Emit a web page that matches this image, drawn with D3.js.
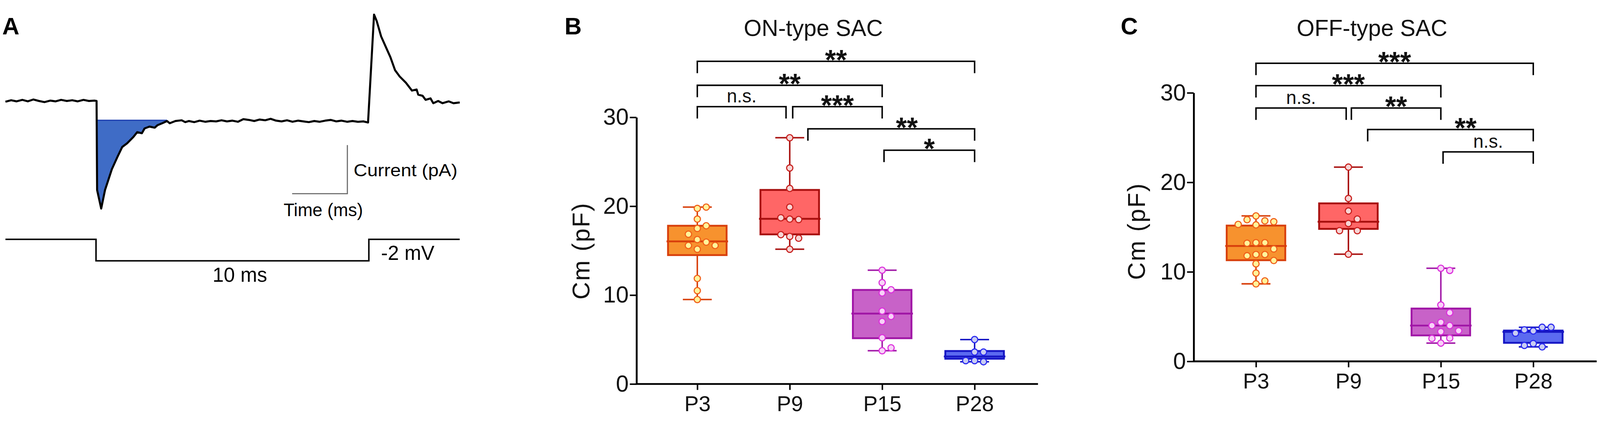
<!DOCTYPE html>
<html>
<head>
<meta charset="utf-8">
<script src="https://cdn.jsdelivr.net/npm/d3@7"></script>
<style>
  html, body { margin: 0; padding: 0; background: #fff; overflow: hidden; }
  svg { display: block; width: 100vw; height: 100vh; font-family: "Liberation Sans", Arial, sans-serif; }
</style>
</head>
<body>
<div id="fig"></div>
<script>
// ---- panel A: membrane current trace (t in ms, I in pA) ----
const traceT = [-3.32, -3.11, -2.91, -2.70, -2.50, -2.30, -2.09, -1.89, -1.68, -1.48, -1.28, -1.07, -0.87, -0.67, -0.46, -0.26, -0.05, 0.02,
  0.04, 0.19, 0.33, 0.42, 0.58, 0.79, 0.96, 1.14, 1.37, 1.51, 1.68, 1.78, 1.96, 2.15, 2.26, 2.46, 2.60, 2.70, 2.91, 3.14, 3.27,
  3.4, 3.6, 3.8, 4.0, 4.2, 4.4, 4.6, 4.8, 5.0, 5.2, 5.4, 5.6, 5.8, 6.0, 6.2, 6.4, 6.6, 6.8, 7.0, 7.2, 7.4, 7.6, 7.8, 8.0, 8.2, 8.4, 8.6, 8.8, 9.0, 9.2, 9.4, 9.6, 9.8, 9.97,
  10.19, 10.29, 10.45, 10.62, 10.79, 10.96, 11.13, 11.36, 11.58, 11.75, 11.81, 11.97, 12.08, 12.26, 12.36, 12.54, 12.70, 12.93, 13.10, 13.33]
const traceI = [-0.2, 0.2, -0.1, 0.3, -0.1, 0.4, 0.0, -0.3, 0.1, -0.1, 0.3, 0.0, 0.2, -0.1, 0.3, 0.0, 0.1, 0.0,
  -24.0, -29.0, -24.0, -22.0, -18.4, -15.0, -12.4, -11.4, -9.7, -8.4, -8.7, -7.4, -6.9, -7.2, -6.5, -5.9, -5.4, -6.0, -5.4, -5.2, -5.7,
  -5.4, -5.7, -5.3, -5.6, -5.4, -5.5, -5.2, -5.5, -5.3, -5.6, -4.9, -5.1, -5.4, -5.0, -5.2, -4.8, -5.3, -5.5, -5.2, -5.6, -5.3, -5.5, -5.7, -5.4, -5.6, -5.3, -5.1, -5.5, -5.3, -5.6, -5.4, -5.6, -5.5, -5.8,
  23.3, 21.5, 17.4, 14.6, 11.8, 8.3, 6.6, 4.9, 2.8, 3.1, 1.7, 1.4, 0.3, 0.7, -0.6, 0.0, -0.6, -0.1, -0.6, -0.4]
const chargeLevel = -5.2      // baseline of the shaded transient
const chargeEnd = 2.60
const stepT = [-3.32, 0, 0, 10, 10, 13.33]
const stepV = [0, 0, -10, -10, 0, 0]

// ---- panels B, C: membrane capacitance ----
const groups = ["P3", "P9", "P15", "P28"]
const yTicks = [0, 10, 20, 30]

const onPoints = [
  [19.75, 19.9, 18.55, 17.8, 17.5, 16.85, 16.25, 15.96, 15.58, 15.58, 15.16, 11.87, 10.5, 9.5],
  [27.7, 24.3, 22.0, 19.9, 18.55, 18.5, 18.7, 16.6, 16.4, 16.8, 15.16],
  [12.8, 11.4, 10.24, 10.6, 8.2, 7.6, 7.03, 5.2, 3.74, 4.07],
  [5.0, 3.59, 3.59, 2.63, 2.5, 2.63]
]
// [min, q1, median, q3, max]
const onBox = [
  [9.5, 14.5, 16.04, 17.8, 19.9],
  [15.16, 16.83, 18.58, 21.83, 27.7],
  [3.74, 5.15, 7.92, 10.58, 12.8],
  [2.5, 2.84, 3.09, 3.71, 5.0]
]
const offPoints = [
  [16.25, 15.7, 15.83, 15.6, 15.3, 15.25, 13.26, 13.26, 13.2, 12.56, 11.94, 11.94, 11.8, 11.27, 10.9, 9.86, 8.66, 8.99],
  [21.7, 18.2, 16.8, 15.9, 15.4, 14.6, 14.6, 11.97],
  [10.4, 10.16, 6.3, 5.44, 4.37, 4.0, 4.0, 3.42, 3.32, 2.6, 2.56, 2.04],
  [3.4, 3.81, 3.52, 3.81, 3.15, 1.99, 1.62, 1.78]
]
const offBox = [
  [8.66, 11.3, 12.89, 15.17, 16.25],
  [11.97, 14.8, 15.6, 17.65, 21.7],
  [2.04, 2.9, 4.0, 5.9, 10.4],
  [1.62, 2.07, 3.3, 3.44, 3.81]
]
// [from group, to group, level (pF), label]
const onSig = [[0, 3, 36.3, "**"], [0, 2, 33.6, "**"], [0, 1, 31.2, "n.s."], [1, 2, 31.2, "***"], [1, 3, 28.7, "**"], [2, 3, 26.3, "*"]]
const offSig = [[0, 3, 33.3, "***"], [0, 2, 30.8, "***"], [0, 1, 28.3, "n.s."], [1, 2, 28.3, "**"], [1, 3, 25.9, "**"], [2, 3, 23.4, "n.s."]]

const colors = [
  {fill: "#f7922e", stroke: "#d8400c", pFill: "#fff49a", pStroke: "#f0601a"},
  {fill: "#ff6666", stroke: "#a8100f", pFill: "#f6d6d6", pStroke: "#c8201e"},
  {fill: "#c862c8", stroke: "#a016a6", pFill: "#f7d2f7", pStroke: "#dc30dc"},
  {fill: "#5b6af0", stroke: "#1616c4", pFill: "#c9cdf2", pStroke: "#2a2af0"}
]

const W = 4316, H = 1090
const svg = d3.select("#fig").append("svg").attr("viewBox", `0 0 ${W} ${H}`)

// ================= panel A =================
const xA = d3.scaleLinear().domain([0, 10]).range([259, 995])
const yA = d3.scaleLinear().domain([0, -30]).range([243, 543])
const vA = d3.scaleLinear().domain([0, -10]).range([616, 674])

const trace = traceT.map((t, i) => [t, traceI[i]])
const charge = trace.filter(d => d[0] > 0.03 && d[0] <= chargeEnd)

svg.append("path")
    .datum(charge)
    .attr("d", d3.area().x(d => xA(d[0])).y0(yA(chargeLevel)).y1(d => yA(d[1])))
    .attr("fill", "#3f6cc6")
svg.append("line")
    .attr("x1", xA(charge[0][0])).attr("x2", xA(chargeEnd))
    .attr("y1", yA(chargeLevel)).attr("y2", yA(chargeLevel))
    .attr("stroke", "#1d3fb0").attr("stroke-width", 3)

svg.append("path")
    .datum(trace)
    .attr("d", d3.line().x(d => xA(d[0])).y(d => yA(d[1])))
    .attr("fill", "none").attr("stroke", "#000").attr("stroke-width", 5.5)
    .attr("stroke-linejoin", "round")

svg.append("path")
    .datum(stepT.map((t, i) => [t, stepV[i]]))
    .attr("d", d3.line().x(d => xA(d[0])).y(d => vA(d[1])))
    .attr("fill", "none").attr("stroke", "#000").attr("stroke-width", 4)

// scale bar
svg.append("path")
    .attr("d", "M788,493 L937,493 L937,362")
    .attr("fill", "none").attr("stroke", "#6b6b6b").attr("stroke-width", 3)
svg.append("text").attr("x", 954).attr("y", 446).attr("font-size", 46)
    .attr("textLength", 280).attr("lengthAdjust", "spacingAndGlyphs").text("Current (pA)")
svg.append("text").attr("x", 872).attr("y", 553).attr("font-size", 48)
    .attr("text-anchor", "middle").text("Time (ms)")
svg.append("text").attr("x", 647).attr("y", 730).attr("font-size", 54)
    .attr("text-anchor", "middle").text("10 ms")
svg.append("text").attr("x", 1028).attr("y", 671).attr("font-size", 54).text("-2 mV")
svg.append("text").attr("x", 6).attr("y", 63).attr("font-size", 64).attr("font-weight", "bold").text("A")

// ================= panels B, C =================
function swarm(vals, y, cx) {
    const step = 24, minD = 23
    const placed = []
    const out = new Array(vals.length)
    vals.forEach((v, i) => {
        const py = y(v)
        for (let k = 0; k < 40; k++) {
            const off = k === 0 ? 0 : (k % 2 ? 1 : -1) * Math.ceil(k / 2) * step
            const px = cx + off
            if (placed.every(p => Math.hypot(p[0] - px, p[1] - py) >= minD)) {
                placed.push([px, py]); out[i] = [px, py]; break
            }
        }
    })
    return out
}

function drawPanel(cfg) {
    const g = svg.append("g")
    const y = d3.scaleLinear().domain([0, 30]).range([cfg.y0, cfg.y30])
    const x = d3.scalePoint().domain(groups).range([cfg.x0, cfg.x3])
    const boxW = 158, capW = 78

    // axes
    const ya = g.append("g").attr("transform", `translate(${cfg.axisX},0)`)
        .call(d3.axisLeft(y).tickValues(yTicks).tickSize(18).tickSizeOuter(0).tickPadding(3))
    ya.select(".domain").attr("stroke-width", 5)
    ya.selectAll(".tick line").attr("stroke-width", 4)
    ya.selectAll(".tick text").attr("font-size", 62).attr("font-family", null).attr("fill", "#111")

    const xa = g.append("g").attr("transform", `translate(0,${cfg.y0})`)
        .call(d3.axisBottom(x).tickSize(16).tickPadding(16))
    xa.select(".domain").remove()
    xa.selectAll(".tick line").attr("stroke-width", 4)
    xa.selectAll(".tick text").attr("font-size", 58).attr("font-family", null).attr("fill", "#111")
    g.append("line").attr("x1", cfg.axisX - 2).attr("x2", cfg.xEnd)
        .attr("y1", cfg.y0).attr("y2", cfg.y0).attr("stroke", "#000").attr("stroke-width", 5)

    // boxes
    groups.forEach((grp, i) => {
        const [mn, q1, md, q3, mx] = cfg.box[i]
        const c = colors[i], cx = x(grp)
        const bg = g.append("g")
        bg.append("line").attr("x1", cx).attr("x2", cx).attr("y1", y(mx)).attr("y2", y(mn))
            .attr("stroke", c.stroke).attr("stroke-width", 4)
        ;[mn, mx].forEach(v => bg.append("line")
            .attr("x1", cx - capW / 2).attr("x2", cx + capW / 2).attr("y1", y(v)).attr("y2", y(v))
            .attr("stroke", c.stroke).attr("stroke-width", 4))
        bg.append("rect").attr("x", cx - boxW / 2).attr("width", boxW)
            .attr("y", y(q3)).attr("height", y(q1) - y(q3))
            .attr("fill", c.fill).attr("stroke", c.stroke).attr("stroke-width", 5)
        bg.append("line").attr("x1", cx - boxW / 2 - 4).attr("x2", cx + boxW / 2 + 4)
            .attr("y1", y(md)).attr("y2", y(md))
            .attr("stroke", c.stroke).attr("stroke-width", 5)

        bg.selectAll("circle").data(swarm(cfg.points[i], y, cx)).join("circle")
            .attr("cx", d => d[0]).attr("cy", d => d[1]).attr("r", 8.5)
            .attr("fill", c.pFill).attr("stroke", c.pStroke).attr("stroke-width", 3)
    })

    // significance brackets
    cfg.sig.forEach((s, k) => {
        const [a, b, lvl, label] = s
        const nd = cfg.nudge[k]
        const xl = x(groups[a]) + nd[0], xr = x(groups[b]) + nd[1], yl = y(lvl)
        g.append("path")
            .attr("d", `M${xl},${yl + 32} L${xl},${yl} L${xr},${yl} L${xr},${yl + 32}`)
            .attr("fill", "none").attr("stroke", "#000").attr("stroke-width", 4)
        const stars = label.startsWith("*")
        g.append("text").attr("x", (xl + xr) / 2 + nd[2])
            .attr("y", stars ? yl + 22 : yl - 11)
            .attr("font-size", stars ? 76 : 50)
            .attr("font-weight", stars ? "bold" : null)
            .attr("text-anchor", "middle").attr("fill", "#111")
            .text(label)
    })

    // titles and labels
    g.append("text").attr("x", cfg.titleX).attr("y", 68).attr("font-size", 62)
        .attr("text-anchor", "middle").attr("fill", "#111").text(cfg.title)
    g.append("text").attr("transform", `translate(${cfg.labelX},${cfg.labelY}) rotate(-90)`)
        .attr("dy", "0.26em").attr("font-size", 66).attr("letter-spacing", 3)
        .attr("text-anchor", "middle").attr("fill", "#111").text("Cm  (pF)")
    g.append("text").attr("x", cfg.letterX).attr("y", 63).attr("font-size", 64)
        .attr("font-weight", "bold").text(cfg.letter)
}

drawPanel({
    axisX: 1717, y0: 1006, y30: 287, x0: 1881, x3: 2629, xEnd: 2800,
    points: onPoints, box: onBox, sig: onSig,
    nudge: [[0, 0, 0], [0, 0, 0], [0, -10, 0], [8, 0, 0], [49, 0, 42], [5, 0, 0]],
    title: "ON-type SAC", titleX: 2194, letter: "B", letterX: 1523, labelX: 1573, labelY: 647
})
drawPanel({
    axisX: 3220, y0: 945, y30: 221, x0: 3388, x3: 4136, xEnd: 4307,
    points: offPoints, box: offBox, sig: offSig,
    nudge: [[0, 0, 0], [0, 0, 0], [0, -6, 0], [8, 0, 0], [52, 0, 41], [6, 0, 0]],
    title: "OFF-type SAC", titleX: 3701, letter: "C", letterX: 3023, labelX: 3071, labelY: 594
})
</script>
</body>
</html>
